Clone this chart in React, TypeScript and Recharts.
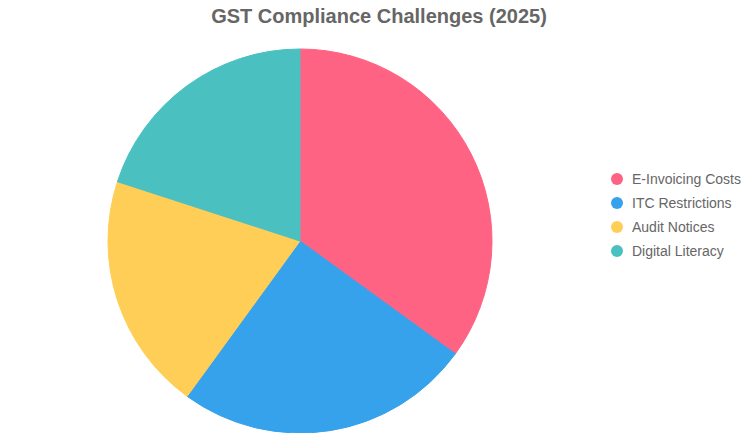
import React from 'react';
import { PieChart, Pie, Cell, Legend } from 'recharts';

const categories = ['E-Invoicing Costs', 'ITC Restrictions', 'Audit Notices', 'Digital Literacy'];
const shares = [35, 25, 20, 20];
const colors = ['#FF6384', '#36A2EB', '#FFCE56', '#4BC0C0'];

const data = categories.map((name, i) => ({ name, value: shares[i] }));

const font = '"Liberation Sans", Arial, Helvetica, sans-serif';

function LegendList() {
  return (
    <div style={{ fontFamily: font, fontSize: 14, color: '#666' }}>
      {categories.map((name, i) => (
        <div key={name} style={{ display: 'flex', alignItems: 'center', height: 24 }}>
          <span
            style={{
              display: 'inline-block',
              width: 12,
              height: 12,
              borderRadius: '50%',
              background: colors[i],
              marginRight: 9,
            }}
          />
          <span>{name}</span>
        </div>
      ))}
    </div>
  );
}

export default function App() {
  return (
    <div style={{ position: 'fixed', left: 0, top: 0, width: 751, height: 433, background: '#fff' }}>
      <div
        style={{
          position: 'absolute',
          left: 0,
          top: 5,
          width: 758,
          textAlign: 'center',
          fontFamily: font,
          fontWeight: 'bold',
          fontSize: 20,
          color: '#666',
        }}
      >
        GST Compliance Challenges (2025)
      </div>
      <PieChart width={751} height={433} margin={{ top: 0, right: 0, bottom: 0, left: 0 }}>
        <Pie
          data={data}
          dataKey="value"
          nameKey="name"
          cx={300}
          cy={241}
          outerRadius={192}
          startAngle={90}
          endAngle={-270}
          stroke="none"
          isAnimationActive={false}
        >
          {data.map((d, i) => (
            <Cell key={d.name} fill={colors[i]} stroke={colors[i]} strokeWidth={1} />
          ))}
        </Pie>
        <Legend
          content={() => <LegendList />}
          wrapperStyle={{ position: 'absolute', left: 611, top: 167, width: 140 }}
        />
      </PieChart>
    </div>
  );
}
